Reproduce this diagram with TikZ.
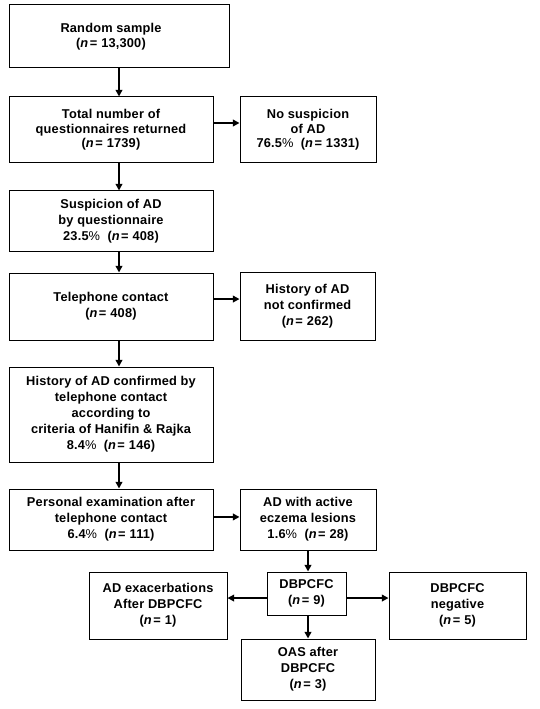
\documentclass[tikz,border=0pt]{standalone}
\usepackage{fontspec}
\newfontfamily\boxfont{Liberation Sans}[LetterSpace=1.5]
\usetikzlibrary{arrows.meta}
\newcommand{\nn}{\textit{n}\kern1pt=\kern3pt}
\newcommand{\pc}{{\mdseries\%}\ \ }
\begin{document}
\begin{tikzpicture}[x=0.75pt,y=-0.75pt,
  box/.style={draw,line width=0.75pt,inner sep=0pt,align=center,
    font=\boxfont\bfseries\fontsize{9.6pt}{12pt}\selectfont},
  tight/.style={font=\boxfont\bfseries\fontsize{9.6pt}{10.9pt}\selectfont},
  arr/.style={line width=1.5pt,-{Triangle[length=5pt,width=5pt]}},
  harr/.style={arr,line width=1.9pt}]
\useasboundingbox (0,0) rectangle (539,709);
\fill[white] (0,0) rectangle (539,709);

\node[box,tight,minimum width=165pt,minimum height=47.25pt] (rs) at (119,36.5)
  {Random sample\rule{12pt}{0pt}\\(\nn 13,300)\rule{12pt}{0pt}};
\node[box,tight,minimum width=153pt,minimum height=49.5pt] (tot) at (111,130)
  {Total number of\\questionnaires returned\\(\nn 1739)};
\node[box,tight,minimum width=102pt,minimum height=49.5pt] (nos) at (308,130)
  {No suspicion\\of AD\\76.5\pc(\nn 1331)};
\node[box,minimum width=153pt,minimum height=45pt] (sus) at (111,221)
  {Suspicion of AD\\by questionnaire\\23.5\pc(\nn 408)};
\node[box,minimum width=153pt,minimum height=50.25pt] (tel) at (111,306.5)
  {Telephone contact\\(\nn 408)};
\node[box,minimum width=101.25pt,minimum height=51pt] (hnc) at (307.5,306)
  {History of AD\\not confirmed\\(\nn 262)};
\node[box,minimum width=153pt,minimum height=71.25pt] (hc) at (111,414.5)
  {History of AD confirmed by\\telephone contact\\according to\\criteria of Hanifin \& Rajka\\8.4\pc(\nn 146)};
\node[box,minimum width=153pt,minimum height=45.75pt] (pe) at (111,519.5)
  {Personal examination after\\telephone contact\\6.4\pc(\nn 111)};
\node[box,minimum width=102pt,minimum height=45.75pt] (act) at (308,519.5)
  {AD with active\\eczema lesions\\1.6\pc(\nn 28)};
\node[box,minimum width=59.25pt,minimum height=32.25pt] (db) at (306.5,593.5)
  {DBPCFC\\(\nn 9)};
\node[box,minimum width=103.5pt,minimum height=50.25pt] (exa) at (158,605.5)
  {AD exacerbations\\After DBPCFC\\(\nn 1)};
\node[box,minimum width=102.75pt,minimum height=50.25pt] (neg) at (457.5,605.5)
  {DBPCFC\\negative\\(\nn 5)};
\node[box,minimum width=100.5pt,minimum height=45.75pt] (oas) at (308,669.5)
  {OAS after\\DBPCFC\\(\nn 3)};

\draw[arr] (rs.south) -- (rs.south |- tot.north);
\draw[arr] ([xshift=6pt]tot.south) -- ([xshift=6pt]sus.north);
\draw[arr] ([xshift=6pt]sus.south) -- ([xshift=6pt]tel.north);
\draw[arr] ([xshift=6pt]tel.south) -- ([xshift=6pt]hc.north);
\draw[arr] ([xshift=6pt]hc.south) -- ([xshift=6pt]pe.north);
\draw[harr] ([yshift=5.25pt]tot.east) -- ([yshift=5.25pt]tot.east -| nos.west);
\draw[harr] ([yshift=5.6pt]tel.east) -- ([yshift=5.6pt]tel.east -| hnc.west);
\draw[harr] ([yshift=1.9pt]pe.east) -- ([yshift=1.9pt]pe.east -| act.west);
\draw[arr] (act.south) -- (act.south |- db.north);
\draw[arr] (db.south -| oas.north) -- (oas.north);
\draw[harr] ([yshift=-3.4pt]db.west) -- ([yshift=-3.4pt]db.west -| exa.east);
\draw[harr] ([yshift=-3.4pt]db.east) -- ([yshift=-3.4pt]db.east -| neg.west);
\end{tikzpicture}
\end{document}
